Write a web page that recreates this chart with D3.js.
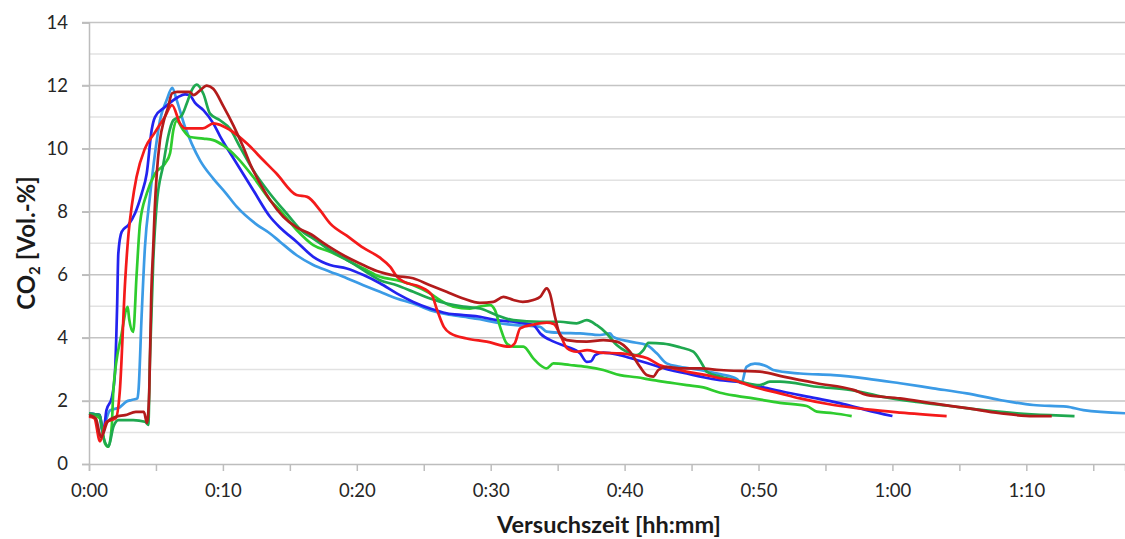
<!DOCTYPE html>
<html>
<head>
<meta charset="utf-8">
<script src="https://cdn.jsdelivr.net/npm/d3@7"></script>
<style>
  body { margin: 0; background: #fff; }
  svg { display: block; font-family: Lato, "Open Sans", sans-serif; }
</style>
</head>
<body>
<div id="chart"></div>
<script>
// Versuchszeit in Minuten, CO2 in Vol.-%
var tickMinutes = d3.range(0, 80, 5);
var yTicks = d3.range(0, 15, 1);

var seriesLightBlue = [[0,1.6],[0.8,1.55],[0.95,1.07],[1.57,1.7],[2.3,1.8],[2.8,1.98],[3.18,2.03],[3.62,2.08],[3.7,2.35],[3.93,4.7],[4.18,6.89],[4.55,8.47],[4.93,9.85],[5.3,10.9],[5.8,11.54],[6.22,11.93],[6.55,11.54],[7.17,10.69],[7.67,10.16],[8.29,9.63],[9.28,9.05],[10.2,8.6],[11.03,8.16],[12.5,7.6],[13.52,7.31],[14.26,7.05],[15.51,6.62],[16.75,6.31],[18.0,6.1],[19.25,5.89],[20.49,5.67],[21.73,5.46],[22.98,5.25],[24.22,5.09],[25.47,4.88],[26.71,4.75],[27.95,4.67],[29.2,4.59],[30.45,4.48],[31.7,4.41],[33.68,4.35],[34.18,4.2],[35.18,4.16],[36.67,4.14],[38.16,4.09],[38.9,4.14],[39.15,4.03],[40.4,3.88],[41.65,3.77],[42.4,3.51],[43.14,3.19],[44.14,3.08],[45.63,2.98],[47.13,2.85],[48.37,2.7],[48.73,2.56],[49.1,3.08],[49.73,3.18],[50.6,3.1],[51.1,2.98],[53.1,2.87],[55.59,2.82],[58.08,2.71],[60.57,2.56],[63.05,2.4],[65.55,2.24],[68.03,2.03],[70.52,1.87],[73.0,1.82],[74.26,1.71],[77.37,1.61]];

var seriesBlue = [[0,1.6],[0.8,1.55],[1.07,1.0],[1.3,1.7],[1.7,2.1],[1.94,2.9],[2.1,5.0],[2.19,6.68],[2.44,7.36],[2.94,7.58],[3.44,7.95],[3.94,8.58],[4.31,9.21],[4.68,10.59],[4.93,11.0],[5.68,11.32],[6.67,11.64],[7.17,11.72],[7.5,11.7],[7.92,11.45],[8.54,11.22],[9.28,10.8],[9.78,10.4],[11.03,9.53],[12.27,8.68],[13.52,7.84],[14.26,7.5],[15.5,7.05],[16.75,6.57],[18.0,6.31],[19.25,6.2],[20.5,5.99],[21.73,5.73],[22.98,5.41],[24.22,5.14],[25.47,4.93],[26.71,4.78],[27.95,4.72],[29.2,4.67],[30.45,4.56],[31.7,4.51],[32.7,4.45],[33.2,4.4],[33.7,4.14],[34.7,3.88],[35.68,3.72],[36.67,3.51],[37.17,3.24],[37.5,3.26],[37.8,3.45],[38.41,3.53],[39.66,3.45],[40.9,3.3],[42.14,3.14],[43.39,2.98],[44.64,2.87],[45.88,2.75],[47.13,2.66],[48.37,2.61],[49.6,2.5],[51.85,2.29],[54.35,2.08],[56.35,1.9],[58.08,1.71],[60.0,1.52]];

var seriesGreen = [[0,1.6],[0.8,1.45],[1.2,0.65],[1.45,0.55],[1.7,1.2],[1.82,2.35],[2.44,4.14],[2.89,4.98],[3.0,4.6],[3.3,4.19],[3.56,6.04],[3.81,7.63],[4.31,8.57],[4.93,9.21],[5.68,9.53],[6.05,9.85],[6.3,10.59],[6.55,10.88],[7.04,10.59],[7.54,10.37],[8.54,10.32],[9.28,10.27],[10.03,10.1],[11.03,9.73],[12.27,9.1],[13.52,8.37],[14.26,8.05],[15.51,7.42],[16.75,6.94],[18.0,6.73],[19.25,6.47],[20.49,6.2],[21.73,5.94],[22.98,5.83],[24.22,5.67],[25.47,5.41],[26.2,5.2],[27.2,4.99],[28.45,4.93],[29.2,4.99],[29.95,5.04],[30.32,4.88],[30.7,4.35],[31.2,3.82],[31.7,3.72],[32.44,3.72],[33.18,3.35],[33.68,3.14],[34.18,3.03],[34.68,3.19],[35.92,3.14],[37.17,3.08],[38.41,2.98],[39.66,2.82],[40.9,2.75],[42.14,2.66],[43.39,2.58],[44.64,2.5],[45.88,2.43],[47.13,2.26],[48.37,2.16],[49.61,2.08],[51.6,1.94],[53.6,1.84],[54.35,1.66],[55.59,1.61],[56.96,1.52]];

var seriesDarkGreen = [[0,1.6],[0.8,1.55],[1.07,0.86],[1.45,0.55],[1.82,1.18],[2.2,1.39],[3.3,1.39],[4.18,1.34],[4.43,1.24],[4.55,3.3],[4.8,6.46],[5.05,8.2],[5.55,9.5],[5.92,10.4],[6.3,10.9],[6.92,11.05],[7.3,11.43],[7.67,11.85],[8.04,12.03],[8.54,11.74],[9.04,11.11],[9.78,10.9],[10.53,10.63],[11.28,10.05],[12.27,9.31],[13.52,8.57],[14.77,7.94],[16.0,7.35],[16.75,7.15],[18.0,6.78],[19.25,6.47],[20.49,6.15],[21.73,5.83],[22.98,5.67],[24.22,5.46],[25.47,5.25],[26.71,5.09],[27.95,4.99],[29.2,4.93],[30.45,4.72],[31.7,4.56],[33.68,4.51],[35.18,4.51],[36.42,4.46],[37.17,4.56],[37.92,4.4],[38.66,4.14],[39.41,3.77],[40.16,3.56],[40.9,3.45],[41.4,3.61],[41.77,3.84],[42.89,3.82],[44.14,3.7],[45.13,3.56],[45.76,3.19],[46.13,2.93],[47.13,2.77],[48.62,2.61],[50.1,2.5],[50.85,2.61],[51.6,2.61],[54.35,2.45],[56.83,2.35],[59.3,2.13],[61.81,1.97],[64.3,1.84],[66.8,1.71],[69.3,1.61],[71.77,1.55],[73.6,1.52]];

var seriesRed = [[0,1.5],[0.4,1.45],[0.82,0.72],[1.3,1.33],[2.0,1.45],[2.3,2.3],[2.7,5.8],[2.95,7.3],[3.2,8.2],[3.55,9.1],[4.17,10.0],[4.9,10.5],[5.65,11.0],[6.2,11.38],[6.8,10.8],[7.2,10.64],[8.5,10.64],[9.3,10.8],[10.5,10.6],[11.8,10.16],[13.0,9.64],[14.0,9.21],[15.5,8.53],[16.3,8.47],[17.25,8.05],[18.0,7.63],[19.25,7.24],[20.5,6.85],[21.7,6.55],[22.5,6.25],[23.0,5.94],[23.5,5.78],[24.7,5.62],[25.6,5.36],[26.0,4.88],[26.5,4.35],[27.0,4.14],[28.2,3.98],[29.7,3.88],[31.4,3.72],[31.8,3.83],[32.2,4.3],[33.2,4.42],[34.2,4.48],[34.7,4.44],[35.2,4.09],[35.7,3.67],[36.4,3.56],[37.2,3.61],[38.2,3.53],[39.7,3.51],[40.7,3.45],[41.7,3.35],[42.6,3.14],[43.6,3.03],[44.6,2.93],[46.1,2.82],[47.1,2.72],[48.1,2.66],[49.6,2.45],[51.6,2.24],[53.1,2.08],[55.6,1.87],[58.1,1.73],[60.6,1.63],[64.05,1.52]];

var seriesDarkRed = [[0,1.55],[0.5,1.45],[0.9,0.85],[1.4,1.35],[2.0,1.5],[2.7,1.55],[3.5,1.65],[4.1,1.65],[4.33,1.3],[4.5,2.3],[4.65,5.4],[4.8,6.9],[4.9,8.0],[5.06,9.2],[5.3,10.27],[5.6,10.9],[5.9,11.3],[6.2,11.75],[6.6,11.8],[7.5,11.8],[7.8,11.7],[8.3,11.85],[8.8,12.0],[9.28,11.9],[10.03,11.35],[10.78,10.74],[11.52,10.05],[12.02,9.53],[12.77,8.9],[13.52,8.37],[14.51,7.84],[15.51,7.5],[16.5,7.3],[17.75,6.94],[19.0,6.62],[20.24,6.36],[21.5,6.12],[23.0,5.96],[24.2,5.89],[25.47,5.67],[26.7,5.46],[27.95,5.25],[29.2,5.11],[30.2,5.14],[30.95,5.3],[31.7,5.2],[32.4,5.14],[33.18,5.2],[33.7,5.3],[34.18,5.57],[34.42,5.41],[34.8,4.67],[35.18,4.09],[35.68,3.93],[37.17,3.88],[38.41,3.93],[39.41,3.88],[40.4,3.56],[41.15,3.08],[41.65,2.82],[42.14,2.77],[42.52,2.98],[43.14,3.08],[44.14,3.03],[45.63,3.03],[47.13,2.98],[48.62,2.95],[50.1,2.93],[51.85,2.77],[54.35,2.56],[57.08,2.35],[58.08,2.19],[60.57,2.08],[63.05,1.92],[65.55,1.77],[68.03,1.61],[70.52,1.52],[71.9,1.52]];

var series = [
    { name: "V1", color: "#3b9be6", data: seriesLightBlue },
    { name: "V2", color: "#2323ef", data: seriesBlue },
    { name: "V3", color: "#2ecc2e", data: seriesGreen },
    { name: "V4", color: "#1fa84f", data: seriesDarkGreen },
    { name: "V5", color: "#f41a1a", data: seriesRed },
    { name: "V6", color: "#b31b1b", data: seriesDarkRed }
];

var width = 1125, height = 539;
var margin = { top: 22.5, right: 0, bottom: 75, left: 89 };

var svg = d3.select("#chart").append("svg")
    .attr("width", width)
    .attr("height", height);

var x = d3.scaleLinear()
    .domain([0, 77.37])
    .range([margin.left, width - margin.right]);

var y = d3.scaleLinear()
    .domain([0, 14])
    .range([height - margin.bottom, margin.top]);

// horizontal grid lines, even values darker
svg.append("g").selectAll("line")
    .data(yTicks.filter(d => d > 0))
    .enter().append("line")
    .attr("x1", d => d % 2 === 0 ? x(0) - 7 : x(0))
    .attr("x2", width)
    .attr("y1", d => y(d))
    .attr("y2", d => y(d))
    .attr("stroke", d => d % 2 === 0 ? "#c4c4c4" : "#e2e2e2")
    .attr("stroke-width", 1.5);

// y axis
var yAxis = svg.append("g")
    .attr("transform", `translate(${x(0)},0)`)
    .call(d3.axisLeft(y).tickValues(d3.range(0, 15, 2)).tickSize(7).tickPadding(14));
yAxis.select(".domain").attr("stroke", "#bdbdbd").attr("stroke-width", 1.5);
yAxis.selectAll(".tick line").attr("stroke", "#bdbdbd").attr("stroke-width", 1.5);
yAxis.selectAll("text").attr("font-size", 18.5).attr("fill", "#262626")
    .attr("font-family", "Lato, sans-serif");

// x axis
var fmt = function(m) {
    return Math.floor(m / 60) + ":" + d3.format("02")(m % 60);
};
var xAxis = svg.append("g")
    .attr("transform", `translate(0,${y(0)})`)
    .call(d3.axisBottom(x).tickValues(tickMinutes).tickSize(7).tickPadding(13)
        .tickFormat(d => d % 10 === 0 ? fmt(d) : ""));
xAxis.select(".domain").attr("stroke", "#bdbdbd").attr("stroke-width", 1.5);
xAxis.selectAll(".tick line").attr("stroke", "#bdbdbd").attr("stroke-width", 1.5);
xAxis.selectAll("text").attr("font-size", 18.5).attr("fill", "#262626")
    .attr("font-family", "Lato, sans-serif");

// lines
var line = d3.line()
    .x(d => x(d[0]))
    .y(d => y(d[1]))
    .curve(d3.curveMonotoneX);

svg.append("g").selectAll("path")
    .data(series)
    .enter().append("path")
    .attr("d", d => line(d.data))
    .attr("fill", "none")
    .attr("stroke", d => d.color)
    .attr("stroke-width", 2.7)
    .attr("stroke-linejoin", "round");

// axis titles
svg.append("text")
    .attr("x", 609)
    .attr("y", 533)
    .attr("text-anchor", "middle")
    .attr("font-size", 23.5)
    .attr("font-weight", "bold")
    .attr("fill", "#1a1a1a")
    .text("Versuchszeit [hh:mm]");

var yTitle = svg.append("text")
    .attr("transform", "translate(35,243) rotate(-90)")
    .attr("text-anchor", "middle")
    .attr("font-size", 24)
    .attr("font-weight", "bold")
    .attr("fill", "#1a1a1a");
yTitle.append("tspan").text("CO");
yTitle.append("tspan").attr("font-size", 15).attr("dy", 5).text("2");
yTitle.append("tspan").attr("dy", -5).text(" [Vol.-%]");
</script>
</body>
</html>
